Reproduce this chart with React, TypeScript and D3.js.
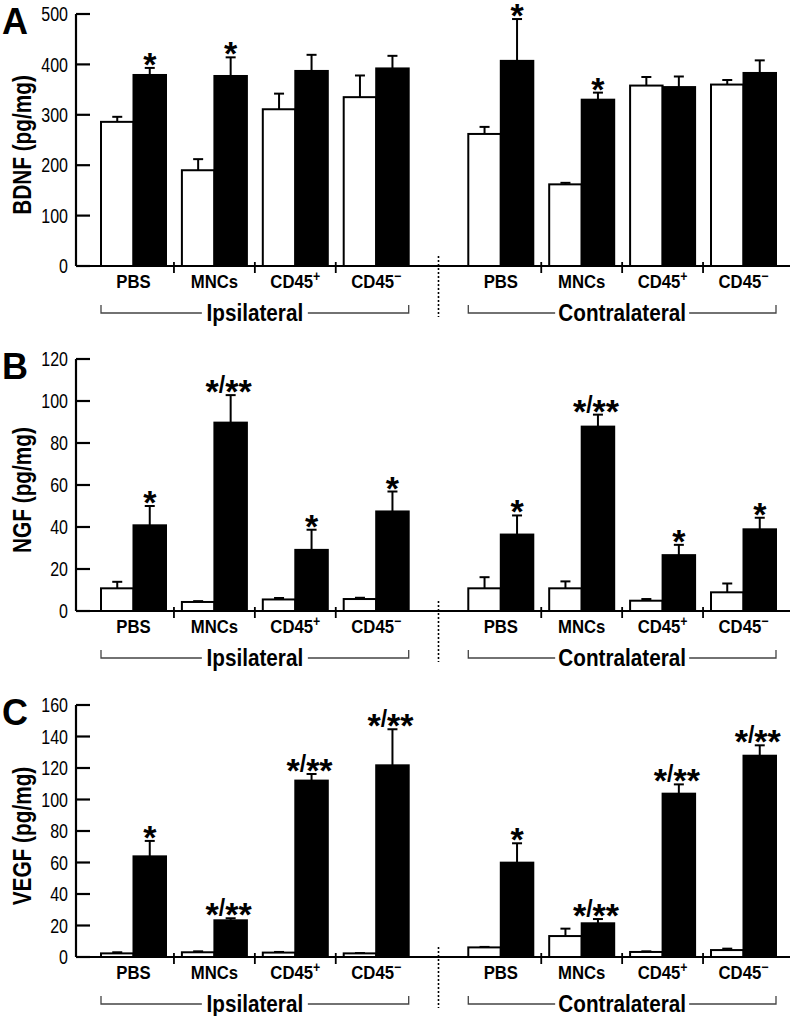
import React from 'react';
import * as d3 from 'd3';

// ---- data ----
const categoryBase = ['PBS', 'MNCs', 'CD45', 'CD45', 'PBS', 'MNCs', 'CD45', 'CD45'];
const categorySup = ['', '', '+', '−', '', '', '+', '−'];
const sideLabels = ['Ipsilateral', 'Contralateral'];
const slotPos = [0, 1, 2, 3, 4.54, 5.54, 6.54, 7.54];

// BDNF (pg/mg)
const bdnfWhite = [286, 190, 311, 335, 262, 162, 358, 360];
const bdnfWhiteErr = [10, 22, 31, 43, 14, 3, 17, 9];
const bdnfBlack = [379, 377, 387, 392, 407, 330, 355, 383];
const bdnfBlackErr = [14, 37, 32, 25, 83, 14, 21, 25];
const bdnfSig = ['*', '*', '', '', '*', '*', '', ''];
const bdnfTicks = [0, 100, 200, 300, 400, 500];

// NGF (pg/mg)
const ngfWhite = [10.8, 4.3, 5.5, 5.7, 10.8, 10.8, 4.9, 8.9];
const ngfWhiteErr = [3.1, 0.4, 0.7, 0.6, 5.3, 3.3, 0.8, 4.2];
const ngfBlack = [40.8, 89.7, 29.1, 47.4, 36.4, 87.8, 26.6, 38.9];
const ngfBlackErr = [9.2, 13.1, 9.6, 9.5, 9.1, 5.7, 4.9, 5.5];
const ngfSig = ['*', '*/**', '*', '*', '*', '*/**', '*', '*'];
const ngfTicks = [0, 20, 40, 60, 80, 100, 120];

// VEGF (pg/mg)
const vegfWhite = [2.3, 3.0, 2.8, 2.3, 6.1, 13.3, 3.2, 4.4];
const vegfWhiteErr = [0.7, 0.6, 0.4, 0.2, 0.3, 4.7, 0.4, 0.9];
const vegfBlack = [63.9, 23.3, 112, 121.7, 59.9, 21.4, 103.7, 127.8];
const vegfBlackErr = [9.8, 1.3, 4.2, 22.9, 12.3, 2.7, 5.9, 6.6];
const vegfSig = ['*', '*/**', '*/**', '*/**', '*', '*/**', '*/**', '*/**'];
const vegfTicks = [0, 20, 40, 60, 80, 100, 120, 140, 160];

const panels = [
  { letter: 'A', yLabel: 'BDNF (pg/mg)', ticks: bdnfTicks, white: bdnfWhite, whiteErr: bdnfWhiteErr, black: bdnfBlack, blackErr: bdnfBlackErr, sig: bdnfSig, top: 14 },
  { letter: 'B', yLabel: 'NGF (pg/mg)', ticks: ngfTicks, white: ngfWhite, whiteErr: ngfWhiteErr, black: ngfBlack, blackErr: ngfBlackErr, sig: ngfSig, top: 359 },
  { letter: 'C', yLabel: 'VEGF (pg/mg)', ticks: vegfTicks, white: vegfWhite, whiteErr: vegfWhiteErr, black: vegfBlack, blackErr: vegfBlackErr, sig: vegfSig, top: 705 },
];

const W = 792;
const H = 1016;
const axisX = 76;
const axisRight = 790;
const plotH = 252;
const barW = 32.5;
const FONT = "'Liberation Sans', Arial, Helvetica, sans-serif";

const x = d3.scaleLinear().domain([0, 7.54]).range([133.5, 743.5]);

function Stars({ text, cx, y }: { text: string; cx: number; y: number }) {
  if (!text) return null;
  const parts = text.split('/');
  if (parts.length === 1) {
    return (
      <text x={cx} y={y} textAnchor="middle" fontFamily={FONT} fontWeight="bold" fontSize={34}>
        {text}
      </text>
    );
  }
  return (
    <text x={cx - 2} y={y} textAnchor="middle" fontFamily={FONT} fontWeight="bold" fontSize={34}>
      <tspan>{parts[0]}</tspan>
      <tspan fontSize={23} dy={-10}>/</tspan>
      <tspan dy={10}>{parts[1]}</tspan>
    </text>
  );
}

function Panel({ p }: { p: typeof panels[number] }) {
  const base = p.top + plotH;
  const yMax = p.ticks[p.ticks.length - 1];
  const y = d3.scaleLinear().domain([0, yMax]).range([base, p.top]);
  const sepTicks: number[] = [];
  [[0, 1, 2, 3], [4, 5, 6, 7]].forEach((idx) => {
    for (let k = 0; k < idx.length - 1; k++) {
      sepTicks.push((x(slotPos[idx[k]]) + x(slotPos[idx[k + 1]])) / 2);
    }
  });
  const sides = [
    { label: sideLabels[0], x0: x(slotPos[0]) - barW, x1: x(slotPos[3]) + barW },
    { label: sideLabels[1], x0: x(slotPos[4]) - barW, x1: x(slotPos[7]) + barW },
  ];
  const divX = (sides[0].x1 + sides[1].x0) / 2;
  const bracketY = base + 47;
  const yLabelCenter = (p.top + base) / 2 + 5;

  return (
    <g>
      {/* panel letter */}
      <text x={2} y={p.top + 20} fontFamily={FONT} fontWeight="bold" fontSize={36}>
        {p.letter}
      </text>
      {/* y label */}
      <text
        transform={`translate(31,${yLabelCenter}) rotate(-90) scale(0.8,1)`}
        textAnchor="middle"
        fontFamily={FONT}
        fontWeight="bold"
        fontSize={26}
      >
        {p.yLabel}
      </text>
      {/* bars */}
      {slotPos.map((s, i) => {
        const cx = x(s);
        const wv = p.white[i];
        const bv = p.black[i];
        const wTop = y(wv + p.whiteErr[i]);
        const bTop = y(bv + p.blackErr[i]);
        return (
          <g key={i}>
            <line x1={cx - barW / 2} x2={cx - barW / 2} y1={y(wv)} y2={wTop} stroke="#000" strokeWidth={2} />
            <line x1={cx - barW / 2 - 5} x2={cx - barW / 2 + 5} y1={wTop} y2={wTop} stroke="#000" strokeWidth={2} />
            <line x1={cx + barW / 2} x2={cx + barW / 2} y1={y(bv)} y2={bTop} stroke="#000" strokeWidth={2} />
            <line x1={cx + barW / 2 - 5} x2={cx + barW / 2 + 5} y1={bTop} y2={bTop} stroke="#000" strokeWidth={2} />
            <rect x={cx - barW} y={y(wv)} width={barW} height={base - y(wv)} fill="#fff" stroke="#000" strokeWidth={2} />
            <rect x={cx} y={y(bv)} width={barW} height={base - y(bv)} fill="#000" stroke="#000" strokeWidth={2} />
            <Stars text={p.sig[i]} cx={cx + barW / 2} y={bTop + 8} />
          </g>
        );
      })}
      {/* y axis */}
      <line x1={axisX} x2={axisX} y1={p.top} y2={base} stroke="#000" strokeWidth={2.2} />
      {p.ticks.map((t) => (
        <g key={t}>
          <line x1={axisX} x2={axisX + 14} y1={y(t)} y2={y(t)} stroke="#000" strokeWidth={2.2} />
          <text
            transform={`translate(68,${y(t)}) scale(0.8,1)`}
            dy="0.36em"
            textAnchor="end"
            fontFamily={FONT}
            fontSize={20}
          >
            {t}
          </text>
        </g>
      ))}
      {/* x baseline */}
      <line x1={axisX} x2={axisRight} y1={base} y2={base} stroke="#000" strokeWidth={2.2} />
      {sepTicks.map((sx, i) => (
        <line key={i} x1={sx} x2={sx} y1={base - 4} y2={base + 7} stroke="#000" strokeWidth={1.8} />
      ))}
      {/* category labels */}
      {slotPos.map((s, i) => (
        <text
          key={i}
          transform={`translate(${x(s)},${base + 22}) scale(0.88,1)`}
          textAnchor="middle"
          fontFamily={FONT}
          fontWeight="bold"
          fontSize={19}
        >
          {categoryBase[i]}
          {categorySup[i] && (
            <tspan fontSize={14} dy={-7}>
              {categorySup[i]}
            </tspan>
          )}
        </text>
      ))}
      {/* side brackets */}
      {sides.map((sd, i) => {
        const mid = (sd.x0 + sd.x1) / 2;
        return (
          <g key={i}>
            <path
              d={`M${sd.x0},${bracketY - 8} V${bracketY} H${sd.x1} V${bracketY - 8}`}
              fill="none"
              stroke="#444"
              strokeWidth={1.3}
            />
            <rect x={mid - (i === 0 ? 53 : 67)} y={bracketY - 10} width={i === 0 ? 106 : 134} height={20} fill="#fff" />
            <text
              transform={`translate(${mid},${bracketY + 8}) scale(0.9,1)`}
              textAnchor="middle"
              fontFamily={FONT}
              fontWeight="bold"
              fontSize={23}
            >
              {sd.label}
            </text>
          </g>
        );
      })}
      {/* dotted divider */}
      <line x1={divX} x2={divX} y1={base - 10} y2={base + 51} stroke="#000" strokeWidth={1.6} strokeDasharray="2,2" />
    </g>
  );
}

export default function App() {
  return (
    <svg width={W} height={H} style={{ position: 'absolute', left: 0, top: 0, background: '#fff' }}>
      <rect width={W} height={H} fill="#fff" />
      {panels.map((p) => (
        <Panel key={p.letter} p={p} />
      ))}
    </svg>
  );
}
